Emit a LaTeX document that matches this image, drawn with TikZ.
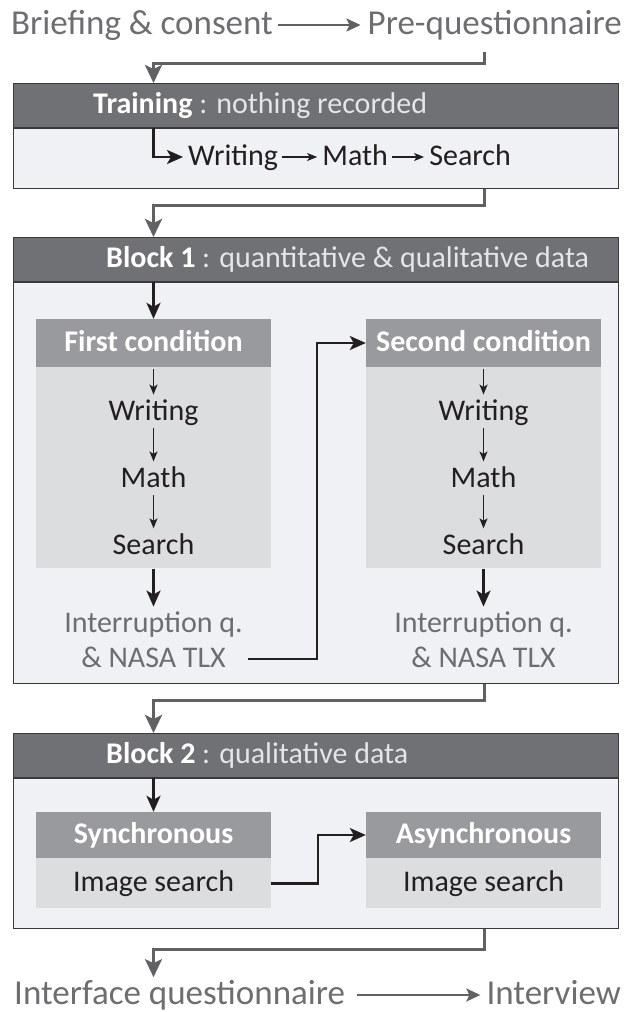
\documentclass[tikz,border=0pt]{standalone}
\usepackage{fontspec}
\setmainfont{Carlito}
\usetikzlibrary{positioning,arrows.meta}
\definecolor{headdark}{HTML}{707174}
\definecolor{panelfill}{HTML}{F0F1F5}
\definecolor{subdark}{HTML}{999A9E}
\definecolor{sublight}{HTML}{DCDDDF}
\definecolor{graytext}{HTML}{6D6E71}
\definecolor{grayline}{HTML}{606164}
\definecolor{blackline}{HTML}{231F20}
\definecolor{edge}{HTML}{3A3A3C}
\definecolor{headtext}{HTML}{E4E5E7}

\begin{document}
\begin{tikzpicture}[x=1pt,y=-1pt,
        txt/.style={inner sep=0pt,text height=22.5pt,text depth=6pt,font=\fontsize{30}{36}\selectfont,text=blackline},
        big/.style={txt,text height=26.25pt,text depth=7pt,font=\fontsize{35}{42}\selectfont,text=graytext},
        headlbl/.style={txt,text=headtext},
        band/.style={draw=edge,line width=1.2pt,fill=headdark,minimum width=605pt,minimum height=44pt,inner sep=0pt,anchor=north west},
        panel/.style={draw=edge,line width=1.2pt,fill=panelfill,minimum width=605pt,inner sep=0pt},
        subhead/.style={txt,fill=subdark,minimum width=235pt,minimum height=48pt,text=white,font=\bfseries\fontsize{30}{36}\selectfont},
        subbody/.style={txt,fill=sublight,minimum width=235pt},
        flow/.style={draw=grayline,line width=3pt,-{Stealth[length=18pt,width=17pt,inset=4pt]}},
        flowthin/.style={draw=grayline,line width=2.2pt,-{Stealth[length=14pt,width=13pt,inset=3pt]}},
        blackarrow/.style={draw=blackline,line width=2.4pt,-{Stealth[length=16pt,width=14pt,inset=4pt]}},
        thinarrow/.style={draw=blackline,line width=1.4pt,-{Stealth[length=10pt,width=8pt,inset=2.5pt]},shorten <=2pt,shorten >=3pt}]

    \path[use as bounding box,fill=white] (0,0) rectangle (629,1012);
    \coordinate (lcol) at (153.5,0);
    \coordinate (rcol) at (484,0);

    \node[big,anchor=west] (brief) at (11,25) {Briefing \& consent};
    \node[big,anchor=east] (preq) at (622,25) {Pre-questionnaire};
    \coordinate (q0) at (484,52);

    \node[band] (trainhead) at (13,83) {};
    \node[panel,minimum height=60pt,below=0pt of trainhead] (trainbody) {};
    \node[headlbl,anchor=west] (trainlbl) at ([xshift=80pt]trainhead.west) {\textcolor{white}{\bfseries Training} : nothing recorded};
    \node[txt,anchor=west] (tw) at (188,157) {Writing};
    \node[txt,right=44pt of tw] (tm) {Math};
    \node[txt,right=41pt of tm] (ts) {Search};

    \node[band] (b1head) at (13,237) {};
    \node[panel,minimum height=401pt,below=0pt of b1head] (b1body) {};
    \node[headlbl,anchor=west] (b1lbl) at ([xshift=93pt]b1head.west) {\textcolor{white}{\bfseries Block 1} : quantitative \& qualitative data};

    \node[subhead] (c1head) at (153.5,343) {First condition};
    \node[subbody,minimum height=201pt,below=0pt of c1head] (c1body) {};
    \node[txt] (c1w) at (153.5,412) {Writing};
    \node[txt,below=38pt of c1w] (c1m) {Math};
    \node[txt,below=38pt of c1m] (c1s) {Search};
    \node[txt,text=graytext] (int1a) at (153.5,624) {Interruption q.};
    \node[txt,text=graytext,below=6pt of int1a] (int1b) {\& NASA TLX};

    \node[subhead] (c2head) at (483.5,343) {Second condition};
    \node[subbody,minimum height=201pt,below=0pt of c2head] (c2body) {};
    \node[txt] (c2w) at (483.5,412) {Writing};
    \node[txt,below=38pt of c2w] (c2m) {Math};
    \node[txt,below=38pt of c2m] (c2s) {Search};
    \node[txt,text=graytext] (int2a) at (483.5,624) {Interruption q.};
    \node[txt,text=graytext,below=6pt of int2a] (int2b) {\& NASA TLX};

    \node[band] (b2head) at (13,733) {};
    \node[panel,minimum height=150pt,below=0pt of b2head] (b2body) {};
    \node[headlbl,anchor=west] (b2lbl) at ([xshift=93pt]b2head.west) {\textcolor{white}{\bfseries Block 2} : qualitative data};

    \node[subhead,minimum height=46pt] (synhead) at (153.5,835) {Synchronous};
    \node[subbody,minimum height=50pt,below=0pt of synhead] (synbody) {Image search};
    \node[subhead,minimum height=46pt] (asyhead) at (483.5,835) {Asynchronous};
    \node[subbody,minimum height=50pt,below=0pt of asyhead] (asybody) {Image search};

    \node[big,anchor=west] (iface) at (14,995) {Interface questionnaire};
    \node[big,anchor=east] (intv) at (621,995) {Interview};

    \draw[flowthin,shorten <=5pt,shorten >=7pt] (brief) -- (preq);
    \draw[flow] (q0) -- ++(0,11) -| (trainhead.north -| lcol);
    \draw[blackarrow,shorten >=5pt] (trainhead.south -| lcol) |- (tw.west);
    \draw[thinarrow,shorten <=4pt,shorten >=5pt] (tw) -- (tm);
    \draw[thinarrow,shorten <=4pt,shorten >=5pt] (tm) -- (ts);
    \draw[flow] (trainbody.south -| rcol) -- ++(0,16) -| (b1head.north -| lcol);

    \draw[blackarrow] (b1head.south -| lcol) -- (c1head.north);
    \draw[thinarrow] (c1head) -- (c1w);
    \draw[thinarrow] (c1w) -- (c1m);
    \draw[thinarrow] (c1m) -- (c1s);
    \draw[blackarrow,shorten >=3pt] (c1body.south) -- (int1a.north);
    \draw[blackarrow] ([xshift=22pt]int1b.east) -| ([xshift=-49pt]c2head.west) -- (c2head.west);
    \draw[thinarrow] (c2head) -- (c2w);
    \draw[thinarrow] (c2w) -- (c2m);
    \draw[thinarrow] (c2m) -- (c2s);
    \draw[blackarrow,shorten >=3pt] (c2body.south) -- (int2a.north);
    \draw[flow] (b1body.south -| rcol) -- ++(0,16) -| (b2head.north -| lcol);

    \draw[blackarrow] (b2head.south -| lcol) -- (synhead.north);
    \draw[blackarrow] (synbody.east) -| ([xshift=-48pt]asyhead.west) -- (asyhead.west);
    \draw[flow,shorten >=1pt] (b2body.south -| rcol) -- ++(0,20) -| (iface.north -| lcol);
    \draw[flowthin,shorten <=12pt,shorten >=6pt] (iface) -- (intv);
\end{tikzpicture}
\end{document}
